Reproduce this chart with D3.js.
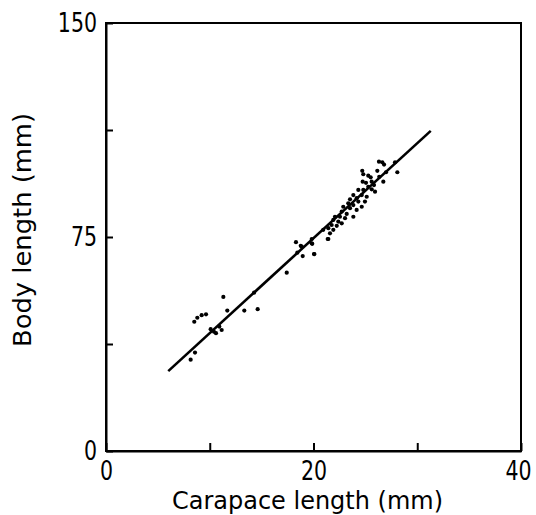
<!DOCTYPE html>
<html>
<head>
<meta charset="utf-8">
<script src="https://cdn.jsdelivr.net/npm/d3@7"></script>
<style>
  html, body { margin: 0; padding: 0; background: #fff; }
  svg { display: block; }
  text { font-family: "DejaVu Sans", sans-serif; fill: #000; }
</style>
</head>
<body>
<svg id="chart" width="536" height="515"></svg>
<script>
// Carapace length (mm) of each specimen
const carapace = [
  8.16, 8.58, 8.51, 8.80, 9.22, 9.64, 10.09, 10.41, 10.60, 10.92, 11.15, 11.31, 11.69,
  13.33, 14.27, 14.62, 17.42, 18.31, 18.77, 18.44, 18.96, 20.08, 19.83, 19.88,
  18.86, 19.83, 20.05, 20.94, 21.43, 21.43, 21.59, 21.37, 21.75, 21.91, 21.91, 22.07,
  22.24, 22.39, 22.55, 22.72, 22.72, 22.87, 23.04, 23.20, 23.35, 23.52, 23.52, 23.84,
  23.84, 23.84, 24.16, 24.16, 24.32, 24.32, 24.65, 24.65, 24.70, 24.80, 24.74, 24.80,
  24.96, 25.06, 25.13, 25.28, 25.28, 25.51, 25.61, 25.61, 25.83, 25.93, 26.15, 26.34,
  26.31, 26.63, 26.80, 26.73, 26.99, 27.86, 28.08
];
// Body length (mm) of each specimen
const bodyLen = [
  32.0, 34.5, 45.3, 46.7, 47.6, 47.9, 42.7, 41.8, 41.3, 43.6, 42.4, 54.0, 49.2,
  49.2, 55.5, 49.7, 62.5, 73.2, 71.9, 69.5, 68.3, 69.0, 74.3, 72.6,
  71.6, 72.8, 69.0, 77.5, 78.1, 74.3, 76.3, 74.3, 79.2, 81.0, 77.5, 82.1,
  78.9, 80.4, 82.1, 83.9, 79.8, 85.6, 81.6, 83.1, 86.8, 88.2, 85.1, 89.7,
  86.2, 82.1, 88.6, 84.5, 91.5, 87.4, 89.7, 85.6, 98.2, 97.0, 94.4, 91.5,
  87.4, 94.0, 89.1, 96.5, 92.6, 95.9, 94.4, 91.7, 93.2, 90.9, 98.2, 96.1,
  101.4, 101.2, 100.4, 94.4, 97.7, 101.2, 97.7
];
// Fitted regression line end points
const fitX = [6.0, 31.3];
const fitY = [28.0, 112.2];

const xTicks = [0, 10, 20, 30, 40];
const xTickLabels = ["0", "", "20", "", "40"];
const yTicks = [0, 37.5, 75, 112.5, 150];
const yTickLabels = ["0", "", "75", "", "150"];
const xTitle = "Carapace length (mm)";
const yTitle = "Body length (mm)";

const svg = d3.select("#chart");
const L = 106, R = 521, T = 23, B = 451;
const SX = 0.76; // horizontal condensing of tick labels

const x = d3.scaleLinear().domain([0, 40]).range([L, R]);
const y = d3.scaleLinear().domain([0, 150]).range([B, T]);

// frame
svg.append("rect")
  .attr("x", L).attr("y", T).attr("width", R - L).attr("height", B - T)
  .attr("fill", "none").attr("stroke", "#000").attr("stroke-width", 2);

// axes
const xAxis = d3.axisBottom(x).tickValues(xTicks)
  .tickFormat((d, i) => xTickLabels[i])
  .tickSizeInner(-8).tickSizeOuter(0).tickPadding(10);
const gx = svg.append("g").attr("transform", `translate(0,${B})`).call(xAxis);
gx.select(".domain").attr("stroke-width", 2);
gx.selectAll(".tick line").attr("stroke-width", 2);
gx.selectAll(".tick text")
  .attr("font-size", 27).attr("font-family", "DejaVu Sans")
  .attr("transform", `scale(${SX},1)`)
  .attr("x", d => (d === 40 ? -3 : 0) / SX);

const yAxis = d3.axisLeft(y).tickValues(yTicks)
  .tickFormat((d, i) => yTickLabels[i])
  .tickSizeInner(-7).tickSizeOuter(0).tickPadding(9);
const gy = svg.append("g").attr("transform", `translate(${L},0)`).call(yAxis);
gy.select(".domain").attr("stroke-width", 2);
gy.selectAll(".tick line").attr("stroke-width", 2);
gy.selectAll(".tick text")
  .attr("font-size", 27).attr("font-family", "DejaVu Sans")
  .attr("transform", `scale(${SX},1)`)
  .attr("x", -9 / SX);

// regression line
svg.append("line")
  .attr("x1", x(fitX[0])).attr("y1", y(fitY[0]))
  .attr("x2", x(fitX[1])).attr("y2", y(fitY[1]))
  .attr("stroke", "#000").attr("stroke-width", 2.6);

// points
svg.append("g").selectAll("circle")
  .data(carapace.map((c, i) => [c, bodyLen[i]]))
  .join("circle")
  .attr("cx", d => x(d[0])).attr("cy", d => y(d[1]))
  .attr("r", 2.1).attr("fill", "#000");

// axis titles
svg.append("text")
  .attr("x", (L + R) / 2 - 6).attr("y", 509)
  .attr("text-anchor", "middle").attr("font-size", 25)
  .attr("textLength", 271).attr("lengthAdjust", "spacingAndGlyphs")
  .text(xTitle);

svg.append("text")
  .attr("transform", `translate(31,230) rotate(-90)`)
  .attr("text-anchor", "middle").attr("font-size", 25)
  .attr("textLength", 234).attr("lengthAdjust", "spacingAndGlyphs")
  .text(yTitle);
</script>
</body>
</html>
